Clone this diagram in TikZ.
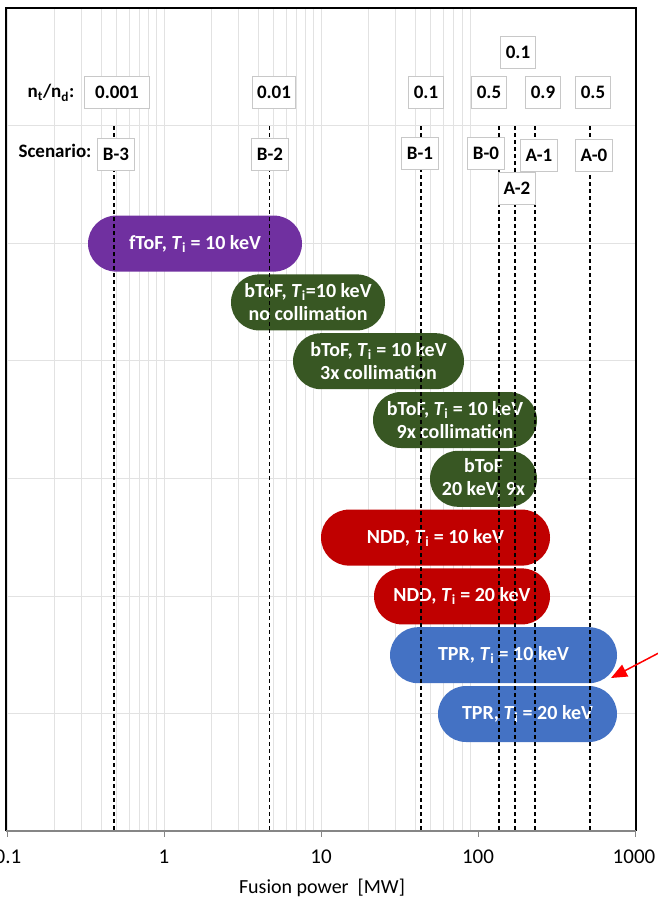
\documentclass[tikz,border=0pt]{standalone}
\usepackage{fontspec}
\setmainfont{Carlito}
\usepackage{tikz}
\usetikzlibrary{arrows.meta}

\definecolor{ftofpurple}{HTML}{7030A0}
\definecolor{btofgreen}{HTML}{385723}
\definecolor{nddred}{HTML}{C00000}
\definecolor{tprblue}{HTML}{4472C4}
\definecolor{gridgray}{HTML}{E2E2E2}
\definecolor{boxgray}{HTML}{C8C8C8}
\definecolor{axisgray}{HTML}{868686}

\begin{document}
\begin{tikzpicture}[x=1pt,y=-1pt,
		gridline/.style={gridgray,line width=1pt},
		pill/.style={rounded corners=28pt,minimum height=56pt,inner sep=0pt,text=white,align=center,font=\fontsize{20}{23}\selectfont\bfseries},
		valbox/.style={draw=boxgray,fill=white,line width=1pt,minimum height=32pt,inner xsep=5pt,inner ysep=0pt,font=\fontsize{19}{22}\selectfont\bfseries},
		scenline/.style={black,line width=1.3pt,dash pattern=on 4pt off 3pt},
		ticklabel/.style={font=\fontsize{21}{23}\selectfont}]
		\useasboundingbox (0,0) rectangle (658,902);
		% grid (log scale, 157 per decade)
		\foreach \d in {0,1,2}
			\foreach \k in {1,...,9}
				\draw[gridline] ({7+157*(\d+log10(\k))},8) -- ({7+157*(\d+log10(\k))},831);
		\foreach \j in {1,...,6}
			\draw[gridline] (7,{8+117.6*\j}) -- (635,{8+117.6*\j});
		% diagnostic ranges
		\node[pill,fill=ftofpurple,minimum width=214pt] (ftof) at (195,243.6) {fToF, \textit{T}\textsubscript{i} = 10 keV};
		\node[pill,fill=btofgreen,minimum width=154pt] (btofa) at (308,302.4) {bToF, \textit{T}\textsubscript{i}=10 keV\\no collimation};
		\node[pill,fill=btofgreen,minimum width=171pt] (btofb) at (378.5,361.2) {bToF, \textit{T}\textsubscript{i} = 10 keV\\3x collimation};
		\node[pill,fill=btofgreen,minimum width=164pt] (btofc) at (455,420) {bToF, \textit{T}\textsubscript{i} = 10 keV\\9x collimation};
		\node[pill,fill=btofgreen,minimum width=107pt] (btofd) at (483.5,478.8) {bToF\\20 keV, 9x};
		\node[pill,fill=nddred,minimum width=229pt] (ndda) at (435.5,537.6) {NDD, \textit{T}\textsubscript{i} = 10 keV};
		\node[pill,fill=nddred,minimum width=176pt] (nddb) at (462,596.4) {NDD, \textit{T}\textsubscript{i} = 20 keV};
		\node[pill,fill=tprblue,minimum width=227pt] (tpra) at (503.5,655.2) {TPR, \textit{T}\textsubscript{i} = 10 keV};
		\node[pill,fill=tprblue,minimum width=179pt] (tprb) at (527.5,714) {TPR, \textit{T}\textsubscript{i} = 20 keV};
		% scenario lines
		\foreach \name/\x in {B3/114,B2/269.5,B1/421,B0/499,A2/515,A1/535,A0/590} {
			\coordinate (\name top) at (\x,126);
			\coordinate (\name bot) at (\x,831);
			\draw[scenline] (\name top) -- (\name bot);
		}
		% frame and axis
		\draw[black,line width=2.5pt] (6,831) -- (6,8) -- (636,8) -- (636,831);
		\draw[axisgray,line width=2pt] (6,831) -- (636,831);
		\foreach \d in {0,...,4}
			\draw[axisgray,line width=1pt] ({7+157*\d},831) -- ({7+157*\d},837);
		% ratio and scenario labels
		\node[font=\fontsize{19}{22}\selectfont\bfseries] (ratiolabel) at (51,93) {n\textsubscript{t}/n\textsubscript{d}:};
		\node[font=\fontsize{19}{22}\selectfont\bfseries] (scenlabel) at (55,151) {Scenario:};
		\node[valbox,minimum width=65pt] (rB3) at (117,92) {0.001};
		\node[valbox] (rB2) at (274,92) {0.01};
		\node[valbox] (rB1) at (426,92) {0.1};
		\node[valbox] (rB0) at (489,92) {0.5};
		\node[valbox] (rA2) at (518,52) {0.1};
		\node[valbox] (rA1) at (543,92) {0.9};
		\node[valbox] (rA0) at (593,92) {0.5};
		\node[valbox] (sB3) at (116,154) {B-3};
		\node[valbox] (sB2) at (270,154) {B-2};
		\node[valbox] (sB1) at (420,153) {B-1};
		\node[valbox] (sB0) at (486,153) {B-0};
		\node[valbox] (sA1) at (539,155) {A-1};
		\node[valbox] (sA0) at (594,155) {A-0};
		\node[valbox] (sA2) at (517,188) {A-2};
		% axis labels
		\node[ticklabel] (t0) at (8,857) {0.1};
		\node[ticklabel] (t1) at (164,857) {1};
		\node[ticklabel] (t2) at (321,857) {10};
		\node[ticklabel] (t3) at (478,857) {100};
		\node[ticklabel] (t4) at (634,857) {1000};
		\node[ticklabel,font=\fontsize{20}{22}\selectfont] (xtitle) at (322,888) {Fusion power\ \ [MW]};
		% pointer
		\coordinate (arrowtail) at (672,646);
		\coordinate (arrowtip) at (611,678);
		\draw[red,line width=1.5pt,-{Triangle[length=16pt,width=13pt]}] (arrowtail) -- (arrowtip);
	\end{tikzpicture}
\end{document}
